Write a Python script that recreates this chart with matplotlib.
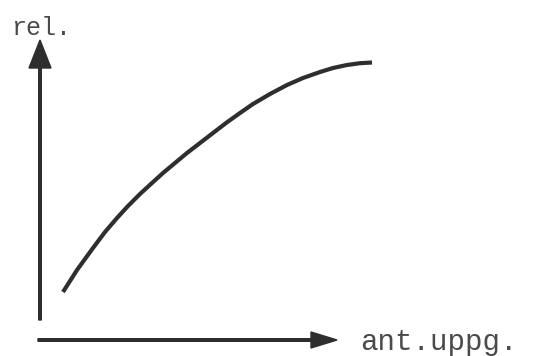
import matplotlib.pyplot as plt
import numpy as np

# kurva: rel. mot ant.uppg. (avlast fran bilden)
ant_uppg = np.array([23, 30, 37, 45, 53, 65, 77, 88, 100, 112, 123, 135, 147,
                     160, 173, 186, 200, 213, 230, 247, 263, 280, 293, 307, 320, 332])
rel = np.array([48, 59, 70, 81, 92, 108, 122, 134, 146, 157, 167, 177, 187,
                197, 207, 217, 227, 236, 246, 255, 262, 268, 272, 275, 276.8, 277.5])

x_label = "ant.uppg."
y_label = "rel."

ink = "#2e2e2e"
text_ink = "#4a4a4a"

fig = plt.figure(figsize=(5.37, 3.56), dpi=100)
ax = fig.add_axes([0, 0, 1, 1])
ax.set_xlim(-40, 497)
ax.set_ylim(-16, 340)
ax.axis("off")

# axlar med pilar
ax.arrow(0, 20, 0, 280, width=2.6, head_width=22, head_length=28,
         length_includes_head=True, color=ink)
ax.arrow(-2, 0, 299, 0, width=2.6, head_width=16, head_length=26,
         length_includes_head=True, color=ink)

ax.plot(ant_uppg, rel, color=ink, lw=3, solid_capstyle="butt",
        solid_joinstyle="round")

ax.text(-29, 305, y_label, fontsize=18, family="Liberation Mono",
        color=text_ink, ha="left", va="baseline")
ax.text(320, -10, x_label, fontsize=21, family="Liberation Mono",
        color=text_ink, ha="left", va="baseline")

plt.savefig("out.png", dpi=100)
